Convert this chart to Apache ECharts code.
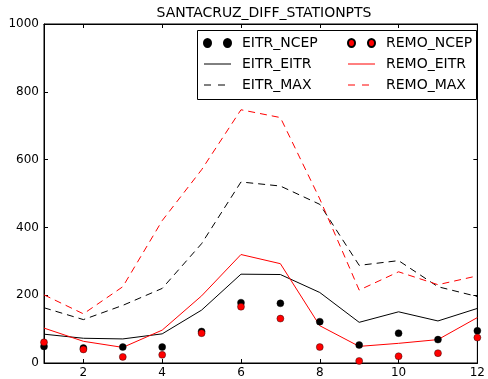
<!DOCTYPE html>
<html>
<head>
<meta charset="utf-8">
<script src="https://cdn.jsdelivr.net/npm/echarts@6/dist/echarts.min.js"></script>
<style>
  html, body { margin: 0; padding: 0; background: #fff; }
  #chart { width: 488px; height: 379px; }
</style>
</head>
<body>
<div id="chart"></div>
<script>
// Months 1..12
var months = [1, 2, 3, 4, 5, 6, 7, 8, 9, 10, 11, 12];
var xTicks = [2, 4, 6, 8, 10, 12];

// Station-point differences per month
var eitrNcep = [49, 44, 47, 47, 93, 178, 176, 122, 53, 88, 69, 95];
var remoNcep = [61, 40, 18, 24, 88, 166, 131, 47, 6, 20, 29, 75];
var eitrEitr = [85, 73, 71, 86, 156, 262, 261, 208, 120, 151, 124, 161];
var remoEitr = [103, 64, 46, 97, 198, 320, 293, 110, 49, 58, 69, 134];
var eitrMax = [163, 128, 170, 220, 352, 534, 522, 468, 288, 302, 225, 196];
var remoMax = [201, 145, 225, 420, 570, 747, 724, 484, 215, 269, 231, 257];

function pairs(vals) {
  return months.map(function (m, i) { return [m, vals[i]]; });
}

var FONT = 'DejaVu Sans';
var RED = '#ff0000';
var BLACK = '#000000';
var twoDots = 'path://M0,4a3.5,4 0 1,0 7,0a3.5,4 0 1,0 -7,0zM20,4a3.5,4 0 1,0 7,0a3.5,4 0 1,0 -7,0z';

var chart = echarts.init(document.getElementById('chart'), null, { renderer: 'canvas' });

var tickStyle = { show: true, inside: true, length: 4, lineStyle: { color: BLACK, width: 1 } };

function lineSeries(name, vals, color, dashed) {
  return {
    name: name,
    type: 'line',
    data: pairs(vals),
    symbol: 'none',
    showSymbol: false,
    lineStyle: { color: color, width: 1, type: dashed ? [7, 5] : 'solid' },
    itemStyle: { color: color },
    z: 2
  };
}

function dotSeries(name, vals, color) {
  return {
    name: name,
    type: 'scatter',
    data: pairs(vals),
    symbol: 'circle',
    symbolSize: 7,
    itemStyle: { color: color, borderColor: BLACK, borderWidth: 0.4, opacity: 1 },
    z: 3
  };
}

// line entries in the legend show only the stroke, no marker
var noMarker = { opacity: 0, borderWidth: 0 };

var legendText = { fontFamily: FONT, fontSize: 14, color: BLACK, lineHeight: 14, padding: [0, 0, 0, 6] };
var legendLine = { width: 1, type: [7, 7] };

chart.setOption({
  animation: false,
  backgroundColor: '#fff',
  title: {
    text: 'SANTACRUZ_DIFF_STATIONPTS',
    left: 264,
    top: 6,
    textAlign: 'center',
    padding: 0,
    textStyle: { fontFamily: FONT, fontSize: 14, fontWeight: 'normal', color: BLACK }
  },
  grid: {
    left: 44, top: 24, width: 440, height: 340,
    show: true, borderColor: BLACK, borderWidth: 1, backgroundColor: 'transparent'
  },
  xAxis: [{
    type: 'value', min: 1, max: 12, position: 'bottom',
    axisLine: { show: true, onZero: false, lineStyle: { color: BLACK, width: 1 } },
    axisTick: Object.assign({ customValues: xTicks }, tickStyle),
    axisLabel: { customValues: xTicks, fontFamily: FONT, fontSize: 12, color: BLACK, margin: 4,
      formatter: function (v) { return String(v); } },
    splitLine: { show: false }
  }, {
    type: 'value', min: 1, max: 12, position: 'top',
    axisLine: { show: true, onZero: false, lineStyle: { color: BLACK, width: 1 } },
    axisTick: Object.assign({ customValues: xTicks }, tickStyle),
    axisLabel: { show: false },
    splitLine: { show: false }
  }],
  yAxis: [{
    type: 'value', min: 0, max: 1000, interval: 200, position: 'left',
    axisLine: { show: true, onZero: false, lineStyle: { color: BLACK, width: 1 } },
    axisTick: tickStyle,
    axisLabel: { fontFamily: FONT, fontSize: 12, color: BLACK, margin: 5,
      formatter: function (v) { return String(v); } },
    splitLine: { show: false }
  }, {
    type: 'value', min: 0, max: 1000, interval: 200, position: 'right',
    axisLine: { show: true, onZero: false, lineStyle: { color: BLACK, width: 1 } },
    axisTick: tickStyle,
    axisLabel: { show: false },
    splitLine: { show: false }
  }],
  legend: [{
    orient: 'vertical',
    left: 203, top: 36,
    padding: 0,
    itemGap: 7,
    itemWidth: 27, itemHeight: 8,
    textStyle: legendText,
    data: [
      { name: 'EITR_NCEP', icon: twoDots },
      { name: 'EITR_EITR', itemStyle: noMarker, lineStyle: { width: 1 } },
      { name: 'EITR_MAX', itemStyle: noMarker, lineStyle: legendLine }
    ],
    z: 6
  }, {
    orient: 'vertical',
    left: 347, top: 36,
    padding: 0,
    itemGap: 7,
    itemWidth: 27, itemHeight: 8,
    textStyle: legendText,
    data: [
      { name: 'REMO_NCEP', icon: twoDots },
      { name: 'REMO_EITR', itemStyle: noMarker, lineStyle: { width: 1 } },
      { name: 'REMO_MAX', itemStyle: noMarker, lineStyle: legendLine }
    ],
    z: 6
  }],
  graphic: [{
    type: 'rect',
    shape: { x: 197.5, y: 30.5, width: 279, height: 69 },
    style: { fill: '#fff', stroke: BLACK, lineWidth: 1 },
    z: 5
  }],
  series: [
    dotSeries('EITR_NCEP', eitrNcep, BLACK),
    lineSeries('EITR_EITR', eitrEitr, BLACK, false),
    lineSeries('EITR_MAX', eitrMax, BLACK, true),
    dotSeries('REMO_NCEP', remoNcep, RED),
    lineSeries('REMO_EITR', remoEitr, RED, false),
    lineSeries('REMO_MAX', remoMax, RED, true)
  ]
});
</script>
</body>
</html>
